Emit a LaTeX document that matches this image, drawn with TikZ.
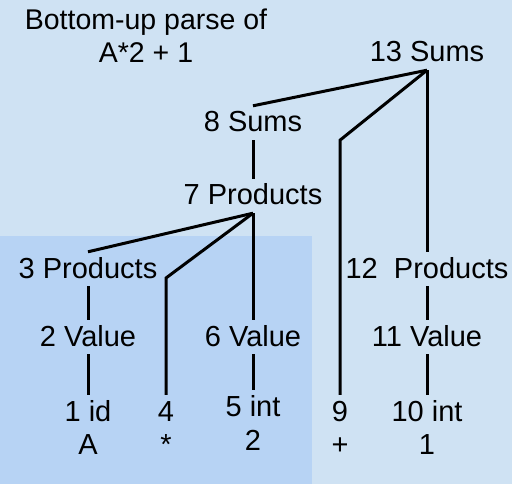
\documentclass[tikz,border=0pt]{standalone}
\usepackage{fontspec}
\setmainfont{Liberation Sans}
\definecolor{bgblue}{HTML}{CFE2F3}
\definecolor{boxblue}{HTML}{B7D3F4}

\begin{document}
\begin{tikzpicture}[
                x=1pt,
                y=-1pt,
                lbl/.style={font=\fontsize{29}{33}\selectfont, anchor=base, inner xsep=0pt, inner ysep=5pt, text height=21pt, text depth=3pt},
                tok/.style={font=\fontsize{29}{33}\selectfont, anchor=base, inner sep=0pt},
                edge/.style={line width=3pt}
            ]

            \fill[bgblue] (0,0) rectangle (512,484);
            \fill[boxblue] (0,236) rectangle (312,484);
            \useasboundingbox (0,0) rectangle (512,484);

            \node[font=\fontsize{28.5}{33}\selectfont, align=center, anchor=base] (title) at (146,63) {Bottom-up parse of\\A*2 + 1};

            \node[lbl] (sums13) at (427,62) {13 Sums};
            \node[lbl] (sums8) at (253,132) {8 Sums};
            \node[lbl] (prods7) at (253,205) {7 Products};
            \node[lbl] (prods3) at (88,278) {3 Products};
            \node[lbl] (prods12) at (427,278) {12\ \ Products};
            \node[lbl] (value2) at (88,346) {2 Value};
            \node[lbl] (value6) at (253,346) {6 Value};
            \node[lbl] (value11) at (427,346) {11 Value};
            \node[lbl] (id1) at (88,421) {1 id};
            \node[lbl] (op4) at (166,421) {4};
            \node[lbl] (int5) at (253,416) {5 int};
            \node[lbl] (op9) at (340,421) {9};
            \node[lbl] (int10) at (427,421) {10 int};

            \node[tok] (tokA) at (88,454) {A};
            \node[tok] (tokstar) at (166,454) {*};
            \node[tok] (tok2) at (253,450) {2};
            \node[tok] (tokplus) at (340,454) {+};
            \node[tok] (tok1) at (427,454) {1};

            \draw[edge] (sums13.south) -- (sums8.north);
            \draw[edge] (sums13.south) -- (sums8.south -| op9.north) -- (op9.north);
            \draw[edge] (sums13.south) -- (prods12.north);
            \draw[edge] (sums8.south) -- (prods7.north);
            \draw[edge] (prods7.south) -- (prods3.north);
            \draw[edge] (prods7.south) -- (prods3.base -| op4.north) -- (op4.north);
            \draw[edge] (prods7.south) -- (value6.north);
            \draw[edge] (prods3.south) -- (value2.north);
            \draw[edge] (value2.south) -- (id1.north);
            \draw[edge] (value6.south) -- (int5.north);
            \draw[edge] (prods12.south) -- (value11.north);
            \draw[edge] (value11.south) -- (int10.north);

            \end{tikzpicture}
\end{document}
